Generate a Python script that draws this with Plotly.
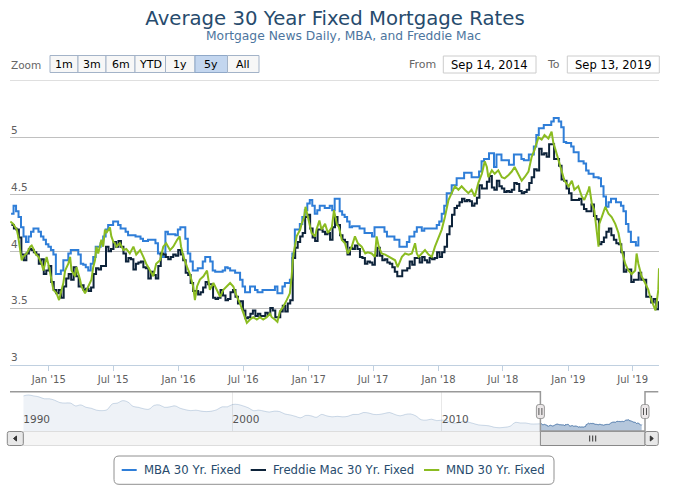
import plotly.graph_objects as go
import pandas as pd

W, H = 685, 494
FONT = "DejaVu Sans"

# ---------------- data ----------------
title_text = "Average 30 Year Fixed Mortgage Rates"
subtitle_text = "Mortgage News Daily, MBA, and Freddie Mac"
series_names = ["MBA 30 Yr. Fixed", "Freddie Mac 30 Yr. Fixed", "MND 30 Yr. Fixed"]
series_colors = ["#2f7ed8", "#0d233a", "#8bbc21"]

view_start = "2014-09-14"
view_end = "2019-09-13"
from_text = "Sep 14, 2014"
to_text = "Sep 13, 2019"
zoom_buttons = ["1m", "3m", "6m", "YTD", "1y", "5y", "All"]
zoom_selected = "5y"

y_tickvals = [3, 3.5, 4, 4.5, 5, 5.5]
x_tick_first = "2015-01-01"
nav_tick_first = "1990-01-01"

# MBA weekly (step series)
mba_first_week = "2014-09-17"
mba_weekly = [
    4.33, 4.40, 4.35, 4.30, 4.21, 4.13, 4.08, 4.13, 4.17, 4.20,
    4.20, 4.17, 4.13, 4.10, 4.06, 4.04, 4.01, 3.97, 3.80, 3.80,
    3.83, 3.92, 3.92, 3.98, 4.01, 4.01, 4.01, 3.97, 3.89, 3.88,
    3.86, 3.83, 3.89, 3.95, 4.04, 4.04, 4.07, 4.13, 4.19, 4.23,
    4.23, 4.26, 4.26, 4.23, 4.20, 4.20, 4.17, 4.14, 4.14, 4.14,
    4.13, 4.13, 4.11, 4.09, 4.09, 4.10, 4.10, 4.10, 4.07, 3.98,
    3.97, 3.95, 4.17, 4.15, 4.15, 4.15, 4.14, 4.19, 4.21, 4.21,
    4.11, 3.98, 3.91, 3.83, 3.83, 3.85, 3.85, 3.91, 3.95, 3.95,
    3.91, 3.83, 3.82, 3.82, 3.82, 3.83, 3.86, 3.85, 3.83, 3.83,
    3.81, 3.81, 3.75, 3.69, 3.64, 3.64, 3.69, 3.69, 3.66, 3.64,
    3.64, 3.66, 3.66, 3.66, 3.66, 3.66, 3.69, 3.63, 3.63, 3.69,
    3.72, 3.72, 3.75, 3.98, 4.19, 4.19, 4.24, 4.30, 4.36, 4.42,
    4.45, 4.40, 4.33, 4.36, 4.40, 4.40, 4.38, 4.38, 4.40, 4.36,
    4.46, 4.46, 4.35, 4.32, 4.30, 4.26, 4.21, 4.22, 4.22, 4.22,
    4.20, 4.20, 4.16, 4.16, 4.16, 4.13, 4.21, 4.21, 4.21, 4.21,
    4.17, 4.13, 4.13, 4.13, 4.10, 4.10, 4.04, 4.04, 4.04, 4.08,
    4.13, 4.13, 4.17, 4.21, 4.21, 4.18, 4.20, 4.20, 4.20, 4.20,
    4.20, 4.23, 4.26, 4.33, 4.40, 4.51, 4.51, 4.58, 4.58, 4.64,
    4.64, 4.64, 4.69, 4.69, 4.69, 4.65, 4.65, 4.65, 4.70, 4.79,
    4.81, 4.81, 4.86, 4.86, 4.74, 4.85, 4.85, 4.80, 4.80, 4.80,
    4.76, 4.76, 4.85, 4.85, 4.85, 4.81, 4.80, 4.80, 4.85, 4.85,
    4.92, 5.02, 5.08, 5.08, 5.11, 5.11, 5.11, 5.14, 5.17, 5.17,
    5.14, 5.09, 4.96, 4.95, 4.95, 4.92, 4.87, 4.87, 4.79, 4.79,
    4.77, 4.71, 4.68, 4.68, 4.65, 4.65, 4.64, 4.57, 4.48, 4.39,
    4.43, 4.46, 4.46, 4.43, 4.43, 4.40, 4.35, 4.24, 4.17, 4.08,
    4.08, 4.05, 4.13,
]

# Freddie Mac weekly (step series)
fm_first_week = "2014-09-18"
fm_weekly = [
    4.23, 4.20, 4.19, 4.12, 3.97, 3.92, 3.98, 4.02, 4.01, 3.99, 3.97, 3.89, 3.93, 3.80, 3.83,
    3.87, 3.73, 3.66, 3.63, 3.66, 3.59, 3.69, 3.76, 3.80, 3.75, 3.86, 3.78, 3.69,
    3.70, 3.66, 3.67, 3.65, 3.68, 3.80, 3.85, 3.84, 3.87, 3.87, 4.04, 4.00, 4.02,
    4.08, 4.04, 4.09, 4.04, 3.98, 3.91, 3.94, 3.93, 3.84, 3.89, 3.90, 3.91, 3.86,
    3.85, 3.76, 3.82, 3.79, 3.76, 3.87, 3.98, 3.97, 3.95, 3.93, 3.95, 3.97, 3.96, 4.01,
    3.97, 3.92, 3.81, 3.79, 3.72, 3.65, 3.65, 3.62, 3.64, 3.68, 3.73, 3.71, 3.71,
    3.59, 3.58, 3.59, 3.66, 3.61, 3.57, 3.58, 3.64, 3.66, 3.60, 3.54, 3.56, 3.48,
    3.41, 3.42, 3.45, 3.48, 3.43, 3.45, 3.43, 3.43, 3.46, 3.44, 3.50, 3.48, 3.42,
    3.42, 3.47, 3.52, 3.47, 3.54, 3.57, 3.94, 4.03, 4.08, 4.13, 4.16, 4.30, 4.32,
    4.20, 4.12, 4.09, 4.19, 4.19, 4.17, 4.15, 4.16, 4.10, 4.21, 4.30, 4.23, 4.14,
    4.10, 4.08, 3.97, 4.03, 4.02, 4.05, 4.02, 3.95, 3.94, 3.89, 3.91, 3.90, 3.88,
    3.96, 4.03, 3.96, 3.92, 3.93, 3.90, 3.89, 3.86, 3.82, 3.78, 3.78, 3.83, 3.83,
    3.85, 3.91, 3.88, 3.94, 3.94, 3.90, 3.95, 3.92, 3.90, 3.94, 3.93, 3.94, 3.99,
    3.95, 3.99, 4.04, 4.15, 4.22, 4.32, 4.38, 4.40, 4.43, 4.46, 4.44, 4.45, 4.44,
    4.40, 4.42, 4.47, 4.58, 4.55, 4.55, 4.61, 4.66, 4.56, 4.54, 4.62, 4.57, 4.55,
    4.52, 4.53, 4.52, 4.54, 4.60, 4.59, 4.53, 4.51, 4.52, 4.54, 4.60, 4.65, 4.72,
    4.71, 4.90, 4.85, 4.86, 4.83, 4.94, 4.94, 4.81, 4.81, 4.75, 4.63, 4.62, 4.55,
    4.51, 4.45, 4.45, 4.45, 4.46, 4.41, 4.37, 4.35, 4.35, 4.41, 4.31, 4.28, 4.06,
    4.08, 4.12, 4.17, 4.20, 4.14, 4.10, 4.07, 4.06, 3.99, 3.82, 3.84, 3.84, 3.73,
    3.75, 3.75, 3.81, 3.75, 3.75, 3.60, 3.60, 3.55, 3.58, 3.49, 3.56,
]

# Mortgage News Daily (daily index, sampled)
mnd_dates = [
    "2014-09-15", "2014-09-23", "2014-10-03", "2014-10-07", "2014-10-14", "2014-10-17",
    "2014-10-21", "2014-10-31", "2014-11-10", "2014-11-14", "2014-11-19", "2014-11-24",
    "2014-12-03", "2014-12-12", "2014-12-17", "2014-12-22", "2014-12-26", "2015-01-02",
    "2015-01-09", "2015-01-14", "2015-01-23", "2015-01-30", "2015-02-06", "2015-02-11",
    "2015-02-16", "2015-02-25", "2015-03-02", "2015-03-06", "2015-03-16", "2015-03-20",
    "2015-03-30", "2015-04-03", "2015-04-08", "2015-04-13", "2015-04-22", "2015-05-01",
    "2015-05-06", "2015-05-11", "2015-05-15", "2015-05-20", "2015-05-29", "2015-06-03",
    "2015-06-08", "2015-06-12", "2015-06-22", "2015-06-26", "2015-07-02", "2015-07-06",
    "2015-07-10", "2015-07-20", "2015-07-30", "2015-08-07", "2015-08-17", "2015-08-27",
    "2015-09-04", "2015-09-15", "2015-09-24", "2015-10-02", "2015-10-13", "2015-10-22",
    "2015-10-30", "2015-11-10", "2015-11-19", "2015-11-27", "2015-12-08", "2015-12-17",
    "2015-12-28", "2016-01-04", "2016-01-08", "2016-01-15", "2016-01-25", "2016-02-02",
    "2016-02-11", "2016-02-16", "2016-02-22", "2016-03-01", "2016-03-11", "2016-03-21",
    "2016-03-25", "2016-03-29", "2016-04-08", "2016-04-18", "2016-04-27", "2016-05-06",
    "2016-05-16", "2016-05-25", "2016-06-03", "2016-06-13", "2016-06-22", "2016-07-01",
    "2016-07-11", "2016-07-20", "2016-07-29", "2016-08-08", "2016-08-17", "2016-08-26",
    "2016-09-05", "2016-09-14", "2016-09-19", "2016-09-28", "2016-10-05", "2016-10-12",
    "2016-10-21", "2016-10-31", "2016-11-09", "2016-11-14", "2016-11-18", "2016-11-28",
    "2016-12-08", "2016-12-12", "2016-12-19", "2016-12-23", "2016-12-30", "2017-01-09",
    "2017-01-19", "2017-01-23", "2017-01-31", "2017-02-06", "2017-02-16", "2017-02-24",
    "2017-03-07", "2017-03-13", "2017-03-21", "2017-03-27", "2017-04-04", "2017-04-13",
    "2017-04-21", "2017-05-02", "2017-05-11", "2017-05-19", "2017-05-30", "2017-06-09",
    "2017-06-16", "2017-06-27", "2017-07-06", "2017-07-11", "2017-07-17", "2017-07-25",
    "2017-08-04", "2017-08-14", "2017-08-22", "2017-09-01", "2017-09-08", "2017-09-20",
    "2017-09-29", "2017-10-09", "2017-10-18", "2017-10-27", "2017-11-01", "2017-11-06",
    "2017-11-15", "2017-11-24", "2017-12-04", "2017-12-13", "2017-12-22", "2018-01-02",
    "2018-01-10", "2018-01-19", "2018-01-29", "2018-02-07", "2018-02-16", "2018-02-26",
    "2018-03-07", "2018-03-16", "2018-03-26", "2018-04-04", "2018-04-13", "2018-04-23",
    "2018-05-03", "2018-05-11", "2018-05-17", "2018-05-21", "2018-05-31", "2018-06-08",
    "2018-06-18", "2018-06-28", "2018-07-06", "2018-07-17", "2018-07-26", "2018-08-03",
    "2018-08-14", "2018-08-23", "2018-08-31", "2018-09-11", "2018-09-20", "2018-09-28",
    "2018-10-09", "2018-10-18", "2018-10-26", "2018-11-06", "2018-11-15", "2018-11-20",
    "2018-11-26", "2018-12-04", "2018-12-14", "2018-12-21", "2019-01-02", "2019-01-11",
    "2019-01-18", "2019-01-29", "2019-02-08", "2019-02-15", "2019-02-27", "2019-03-01",
    "2019-03-08", "2019-03-15", "2019-03-27", "2019-03-29", "2019-04-05", "2019-04-15",
    "2019-04-24", "2019-05-03", "2019-05-13", "2019-05-22", "2019-05-31", "2019-06-10",
    "2019-06-19", "2019-06-28", "2019-07-08", "2019-07-12", "2019-07-17", "2019-07-26",
    "2019-08-05", "2019-08-14", "2019-08-19", "2019-08-23", "2019-09-03", "2019-09-06",
    "2019-09-11", "2019-09-13",
]
mnd_values = [
    4.26, 4.24, 4.19, 4.13, 3.98, 3.92,
    3.95, 3.98, 4.04, 4.05, 4.02, 3.98,
    3.95, 3.89, 3.83, 3.89, 3.95, 3.86,
    3.75, 3.66, 3.63, 3.57, 3.66, 3.72,
    3.83, 3.89, 3.95, 3.83, 3.78, 3.86,
    3.75, 3.69, 3.66, 3.63, 3.69, 3.75,
    3.86, 3.92, 4.04, 3.98, 4.10, 4.04,
    4.19, 4.16, 4.21, 4.13, 4.08, 4.07,
    4.04, 4.07, 4.01, 4.02, 3.98, 4.04,
    3.97, 4.01, 3.95, 3.89, 3.83, 3.78,
    3.89, 3.92, 4.04, 4.07, 4.01, 4.04,
    4.10, 4.13, 4.04, 3.95, 3.86, 3.80,
    3.69, 3.57, 3.69, 3.75, 3.78, 3.83,
    3.75, 3.66, 3.72, 3.66, 3.60, 3.66,
    3.69, 3.72, 3.69, 3.60, 3.54, 3.45,
    3.37, 3.40, 3.42, 3.40, 3.42, 3.40,
    3.42, 3.45, 3.42, 3.40, 3.38, 3.47,
    3.51, 3.57, 3.63, 3.78, 3.95, 4.13,
    4.19, 4.24, 4.30, 4.39, 4.30, 4.16,
    4.13, 4.19, 4.27, 4.19, 4.24, 4.16,
    4.21, 4.36, 4.24, 4.21, 4.10, 4.07,
    3.98, 4.04, 4.13, 4.07, 4.04, 3.98,
    3.99, 3.98, 3.95, 4.13, 4.04, 3.98,
    3.97, 3.95, 3.94, 3.92, 3.86, 3.95,
    3.98, 3.97, 3.98, 4.07, 3.98, 3.95,
    3.98, 4.01, 3.97, 3.95, 4.04, 4.13,
    4.19, 4.30, 4.45, 4.51, 4.57, 4.54,
    4.57, 4.54, 4.51, 4.54, 4.48, 4.60,
    4.68, 4.79, 4.74, 4.65, 4.71, 4.68,
    4.71, 4.65, 4.64, 4.67, 4.70, 4.74,
    4.67, 4.62, 4.65, 4.70, 4.83, 4.89,
    5.00, 4.98, 5.02, 4.99, 5.05, 4.95,
    4.89, 4.80, 4.71, 4.62, 4.57, 4.62,
    4.54, 4.57, 4.48, 4.45, 4.54, 4.57,
    4.42, 4.36, 4.04, 4.24, 4.30, 4.39,
    4.33, 4.30, 4.24, 4.16, 4.01, 3.89,
    3.83, 3.80, 3.83, 3.98, 3.89, 3.78,
    3.72, 3.66, 3.60, 3.57, 3.48, 3.54,
    3.66, 3.85,
]

# MBA history shown in the navigator (quarterly, from 1990)
mba_hist_first_quarter = "1990-01-01"
mba_hist_quarterly = [
    10.2, 10.4, 10.2, 10.0,  9.6, 9.6, 9.3, 8.8,  8.7, 8.7, 8.1, 8.3,
    7.8, 7.6, 7.2, 7.1,  7.3, 8.5, 8.7, 9.2,  8.9, 8.0, 7.8, 7.5,
    7.4, 8.2, 8.3, 7.8,  7.9, 8.1, 7.6, 7.3,  7.1, 7.2, 7.0, 6.9,
    7.0, 7.3, 7.9, 7.9,  8.4, 8.4, 8.1, 7.7,  7.1, 7.2, 7.0, 6.8,
    7.0, 6.9, 6.4, 6.2,  5.9, 5.6, 6.1, 6.0,  5.7, 6.3, 6.0, 5.8,
    5.9, 5.8, 5.9, 6.3,  6.3, 6.7, 6.6, 6.3,  6.3, 6.5, 6.7, 6.3,
    6.0, 6.3, 6.4, 6.0,  5.2, 5.1, 5.3, 5.0,  5.1, 5.0, 4.5, 4.5,
    4.9, 4.7, 4.4, 4.1,  4.0, 3.9, 3.6, 3.5,  3.6, 3.8, 4.6, 4.5,
    4.5, 4.3, 4.3,
]

mba_dates = pd.date_range(mba_first_week, periods=len(mba_weekly), freq="7D")
fm_dates = pd.date_range(fm_first_week, periods=len(fm_weekly), freq="7D")
hist_dates = pd.date_range(mba_hist_first_quarter, periods=len(mba_hist_quarterly), freq="QS")

# ---------------- geometry (pixels) ----------------
PLOT_L, PLOT_R, PLOT_T, PLOT_B = 10, 659, 80.5, 365
NAV_L, NAV_R, NAV_T, NAV_B = 23.3, 645, 391.7, 431


def px(x):
    return x / W


def py(y):
    return 1 - y / H


shapes = []
annotations = []


def rect(x0, y0, x1, y1, fill, line, lw=1):
    shapes.append(dict(type="rect", xref="paper", yref="paper",
                       x0=px(x0), x1=px(x1), y0=py(y1), y1=py(y0),
                       fillcolor=fill, line=dict(color=line, width=lw), layer="above"))


def rrect(x0, y0, x1, y1, r, fill, line, lw=1):
    p = (f"M{px(x0 + r)},{py(y0)} L{px(x1 - r)},{py(y0)} Q{px(x1)},{py(y0)} {px(x1)},{py(y0 + r)} "
         f"L{px(x1)},{py(y1 - r)} Q{px(x1)},{py(y1)} {px(x1 - r)},{py(y1)} "
         f"L{px(x0 + r)},{py(y1)} Q{px(x0)},{py(y1)} {px(x0)},{py(y1 - r)} "
         f"L{px(x0)},{py(y0 + r)} Q{px(x0)},{py(y0)} {px(x0 + r)},{py(y0)} Z")
    shapes.append(dict(type="path", xref="paper", yref="paper", path=p,
                       fillcolor=fill, line=dict(color=line, width=lw), layer="above"))


def seg(points, color, lw=1, fill=None, close=False):
    p = "M" + " L".join(f"{px(x)},{py(y)}" for x, y in points) + (" Z" if close else "")
    d = dict(type="path", xref="paper", yref="paper", path=p,
             line=dict(color=color, width=lw), layer="above")
    if fill:
        d["fillcolor"] = fill
    shapes.append(d)


def text(x, y, s, size, color, anchor="center"):
    annotations.append(dict(xref="paper", yref="paper", x=px(x), y=py(y), text=s,
                            showarrow=False, xanchor=anchor, yanchor="middle",
                            font=dict(family=FONT, size=size, color=color)))


# ---------------- traces ----------------
fig = go.Figure()
fig.add_trace(go.Scatter(x=mba_dates, y=mba_weekly, name=series_names[0], mode="lines",
                         line=dict(color=series_colors[0], width=2, shape="hv"),
                         xaxis="x", yaxis="y", showlegend=False))
fig.add_trace(go.Scatter(x=fm_dates, y=fm_weekly, name=series_names[1], mode="lines",
                         line=dict(color=series_colors[1], width=2, shape="hv"),
                         xaxis="x", yaxis="y", showlegend=False))
fig.add_trace(go.Scatter(x=pd.to_datetime(mnd_dates), y=mnd_values, name=series_names[2], mode="lines",
                         line=dict(color=series_colors[2], width=2),
                         xaxis="x", yaxis="y", showlegend=False))

# navigator: history (outside selection, washed out) and selected range
nav_light_x = list(hist_dates) + [mba_dates[0]]
nav_light_y = list(mba_hist_quarterly) + [mba_weekly[0]]
fig.add_trace(go.Scatter(x=nav_light_x, y=nav_light_y, mode="lines", fill="tozeroy",
                         line=dict(color="rgba(69,114,167,0.25)", width=1, shape="spline"),
                         fillcolor="rgba(69,114,167,0.09)",
                         xaxis="x2", yaxis="y2", showlegend=False, hoverinfo="skip"))
fig.add_trace(go.Scatter(x=mba_dates, y=mba_weekly, mode="lines", fill="tozeroy",
                         line=dict(color="#4572A7", width=1, shape="spline"),
                         fillcolor="rgba(69,114,167,0.40)",
                         xaxis="x2", yaxis="y2", showlegend=False, hoverinfo="skip"))

nav_all = list(mba_hist_quarterly) + list(mba_weekly)
lo, hi = min(nav_all), max(nav_all)
pad = 0.1 * (hi - lo)

# top gridline (its label is hidden, as in the original)
shapes.append(dict(type="line", xref="paper", yref="y", x0=px(PLOT_L), x1=px(PLOT_R),
                   y0=y_tickvals[-1], y1=y_tickvals[-1], line=dict(color="#C0C0C0", width=1),
                   layer="below"))

# ---------------- UI decorations ----------------
# zoom buttons
text(9, 64.5, "Zoom", 10.5, "#666666", anchor="left")
btn_edges = [50, 78, 106, 135, 165.5, 195, 227.5, 259]
for i, lab in enumerate(zoom_buttons):
    sel = lab == zoom_selected
    rect(btn_edges[i], 55.5, btn_edges[i + 1], 72.5,
         "#c3d6ef" if sel else "#f7f7f7", "#a3b3c8" if not sel else "#8fa8c8")
    text((btn_edges[i] + btn_edges[i + 1]) / 2, 64.3, lab, 11, "#000000")

# from / to inputs
text(438, 64.5, "From", 11, "#666666", anchor="right")
rect(443.3, 56, 536, 73, "#ffffff", "#cccccc")
text((443.3 + 536) / 2, 64.5, from_text, 11.5, "#000000")
text(562, 64.5, "To", 11, "#666666", anchor="right")
rect(567.3, 56, 659.3, 73, "#ffffff", "#cccccc")
text((567.3 + 659.3) / 2, 64.5, to_text, 11.5, "#000000")

# navigator selection geometry from the navigator's date scale
nav_t0 = pd.Timestamp(mba_hist_first_quarter)
nav_t1 = pd.Timestamp(view_end)


def nav_px(t):
    return NAV_L + (pd.Timestamp(t) - nav_t0) / (nav_t1 - nav_t0) * (NAV_R - NAV_L)


hl, hr = nav_px(view_start), nav_px(view_end)

# scrollbar
rect(NAV_L, 431.5, NAV_R, 445.5, "#f5f5f5", "#dddddd")
rect(hl, 431.5, hr, 445.5, "#e3e3e3", "#888888")
gc = (hl + hr) / 2
for dx in (-3, 0, 3):
    seg([(gc + dx, 435.5), (gc + dx, 441.5)], "#333333", 1)
rrect(7.3, 431.5, NAV_L, 445.5, 2, "#e8e8e8", "#888888")
seg([(13.5, 438.5), (16.5, 436), (16.5, 441)], "#333333", 1, fill="#333333", close=True)
rrect(NAV_R, 431.5, 658.3, 445.5, 2, "#e8e8e8", "#888888")
seg([(653.3, 438.5), (650.3, 436), (650.3, 441)], "#333333", 1, fill="#333333", close=True)

# navigator outline
seg([(10, NAV_T), (hl, NAV_T), (hl, NAV_B), (hr, NAV_B), (hr, NAV_T), (658.3, NAV_T)], "#999999", 1.5)

# handles
for hx in (hl, hr):
    rrect(hx - 4, 404.5, hx + 4, 418.5, 2.5, "#ebe7e8", "#9a9a9a")
    for dx in (-1.5, 1.5):
        seg([(hx + dx, 408), (hx + dx, 415)], "#555555", 1)

# legend
rrect(114, 456, 554, 484.3, 5, "#ffffff", "#909090")
leg_line_x = [(121.7, 136.7), (250.7, 266), (424, 439.3)]
leg_text_x = [141.5, 270.5, 443.8]
for i in range(3):
    seg([(leg_line_x[i][0], 470), (leg_line_x[i][1], 470)], series_colors[i], 2)
    text(leg_text_x[i], 470, series_names[i], 11.7, "#274b6d", anchor="left")

# subtitle
text(343.5, 36, subtitle_text, 12.3, "#4d759e")

# ---------------- layout ----------------
fig.update_layout(
    template="none",
    width=W, height=H,
    margin=dict(l=0, r=0, t=0, b=0, pad=0),
    paper_bgcolor="#ffffff", plot_bgcolor="#ffffff",
    showlegend=False,
    title=dict(text=title_text, x=335 / W, xanchor="center", y=1 - 18.5 / H, yanchor="middle",
               font=dict(family=FONT, size=19.7, color="#274b6d")),
    xaxis=dict(domain=[PLOT_L / W, PLOT_R / W], anchor="y", type="date",
               range=[view_start, view_end], tick0=x_tick_first, dtick="M6",
               tickformat="%b '%y", showgrid=False, zeroline=False,
               showline=True, linecolor="#C0D0E0", linewidth=1,
               ticks="outside", ticklen=5, tickcolor="#C0D0E0",
               tickfont=dict(family=FONT, size=10, color="#606060")),
    yaxis=dict(domain=[1 - PLOT_B / H, 1 - PLOT_T / H], anchor="x",
               range=[y_tickvals[0], y_tickvals[-1]], tickvals=y_tickvals,
               ticktext=[f"{v:g}" for v in y_tickvals[:-1]] + [""],
               showgrid=True, gridcolor="#C0C0C0", gridwidth=1,
               zeroline=False, showline=False, ticks="",
               ticklabelposition="inside top", ticklabelstandoff=-2,
               tickfont=dict(family=FONT, size=10.5, color="#606060")),
    xaxis2=dict(domain=[NAV_L / W, NAV_R / W], anchor="y2", type="date",
                range=[mba_hist_first_quarter, view_end], tick0=nav_tick_first, dtick="M120",
                tickformat="%Y", showgrid=True, gridcolor="#e8e8e8", zeroline=False,
                showline=False, ticks="", ticklabelposition="inside right",
                ticklabeloverflow="allow",
                tickfont=dict(family=FONT, size=10.5, color="#555555")),
    yaxis2=dict(domain=[1 - NAV_B / H, 1 - NAV_T / H], anchor="x2",
                range=[lo - pad, hi + pad], visible=False, showgrid=False, zeroline=False),
    shapes=shapes,
    annotations=annotations,
)

fig.write_html("out.html",
               config={"displayModeBar": False},
               post_script="document.body.style.margin='0';document.body.style.padding='0';")
